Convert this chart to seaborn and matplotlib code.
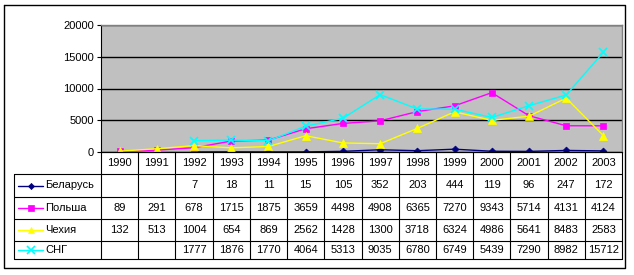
import numpy as np
import pandas as pd
import matplotlib
matplotlib.use("Agg")
import matplotlib.pyplot as plt
import seaborn as sns
from matplotlib.lines import Line2D

years = ["1990", "1991", "1992", "1993", "1994", "1995", "1996", "1997",
         "1998", "1999", "2000", "2001", "2002", "2003"]
belarus = [np.nan, np.nan, 7, 18, 11, 15, 105, 352, 203, 444, 119, 96, 247, 172]
poland = [89, 291, 678, 1715, 1875, 3659, 4498, 4908, 6365, 7270, 9343, 5714, 4131, 4124]
czech = [132, 513, 1004, 654, 869, 2562, 1428, 1300, 3718, 6324, 4986, 5641, 8483, 2583]
cis = [np.nan, np.nan, 1777, 1876, 1770, 4064, 5313, 9035, 6780, 6749, 5439, 7290, 8982, 15712]
series_names = ["Беларусь", "Польша", "Чехия", "СНГ"]
series_values = [belarus, poland, czech, cis]
y_ticks = [0, 5000, 10000, 15000, 20000]

colors = {"Беларусь": "#000080", "Польша": "#FF00FF", "Чехия": "#FFFF00", "СНГ": "#00FFFF"}
markers = {"Беларусь": "D", "Польша": "s", "Чехия": "^", "СНГ": "x"}
msizes = {"Беларусь": 3.5, "Польша": 5, "Чехия": 5.5, "СНГ": 6}

rows = []
for name, vals in zip(series_names, series_values):
    for i, v in enumerate(vals):
        rows.append({"idx": i, "year": years[i], "value": v, "series": name})
df = pd.DataFrame(rows)

sns.set_theme(style="white")
plt.rcParams["font.family"] = ["Liberation Sans", "DejaVu Sans"]

W, H = 634, 275
fig = plt.figure(figsize=(W / 100, H / 100), dpi=100)

# pixel layout
px_l, px_r, px_t, px_b = 101, 622, 25, 152
ax = fig.add_axes([px_l / W, 1 - px_b / H, (px_r - px_l) / W, (px_b - px_t) / H])
ax.set_facecolor("#C0C0C0")

for name in series_names:
    sub = df[df["series"] == name].dropna()
    sns.lineplot(data=sub, x="idx", y="value", ax=ax, color=colors[name],
                 marker=markers[name], markersize=msizes[name],
                 markeredgecolor=colors[name], markeredgewidth=1.2 if name == "СНГ" else 0.5,
                 linewidth=1.0, legend=False, estimator=None)

ax.set_xlim(-0.5, len(years) - 0.5)
ax.set_ylim(0, 20000)
ax.set_yticks(y_ticks)
ax.set_yticklabels([str(t) for t in y_ticks], fontsize=8, color="black")
ax.set_xticks([])
ax.set_xlabel("")
ax.set_ylabel("")
ax.grid(axis="y", color="black", linewidth=1)
ax.tick_params(axis="y", length=3, width=0.8, color="black", pad=2, left=True)
for side in ["top", "right"]:
    ax.spines[side].set_color("#808080")
    ax.spines[side].set_linewidth(1)
ax.spines["left"].set_color("black")
ax.spines["bottom"].set_color("black")
ax.spines["left"].set_linewidth(0.8)
ax.spines["bottom"].set_linewidth(0.8)

# overlay in pixel coordinates for table and frame
ov = fig.add_axes([0, 0, 1, 1], facecolor="none")
ov.set_xlim(0, W)
ov.set_ylim(H, 0)
ov.axis("off")

# outer chart frame
ov.add_line(Line2D([4, 625, 625, 4, 4], [5, 5, 268, 268, 5], color="black", lw=1))

ncol = len(years)
cw = (px_r - px_l) / ncol
row_y = [152, 174, 197, 219, 241, 259]
tab_l = 14

# horizontal lines
ov.add_line(Line2D([px_l, px_r], [row_y[0], row_y[0]], color="black", lw=0.8))
for y in row_y[1:]:
    ov.add_line(Line2D([tab_l, px_r], [y, y], color="black", lw=0.8))
# vertical lines
for i in range(ncol + 1):
    x = px_l + i * cw
    ov.add_line(Line2D([x, x], [row_y[0], row_y[-1]], color="black", lw=0.8))
ov.add_line(Line2D([tab_l, tab_l], [row_y[1], row_y[-1]], color="black", lw=0.8))

# year header
for i, yr in enumerate(years):
    ov.text(px_l + (i + 0.5) * cw, (row_y[0] + row_y[1]) / 2, yr, ha="center",
            va="center", fontsize=8, color="black")

# data rows
for r, (name, vals) in enumerate(zip(series_names, series_values)):
    yc = (row_y[r + 1] + row_y[r + 2]) / 2
    ov.add_line(Line2D([18, 30.5, 43], [yc, yc, yc], color=colors[name], lw=1,
                       marker=markers[name], markevery=[1],
                       markersize=msizes[name] * 0.9, markeredgecolor=colors[name],
                       markeredgewidth=1.2 if name == "СНГ" else 0.5))
    ov.text(45, yc, name, ha="left", va="center", fontsize=8, color="black")
    for i, v in enumerate(vals):
        if not np.isnan(v):
            ov.text(px_l + (i + 0.5) * cw, yc, f"{int(v)}", ha="center",
                    va="center", fontsize=8, color="black")

fig.savefig("out.png", dpi=100, facecolor="white")
